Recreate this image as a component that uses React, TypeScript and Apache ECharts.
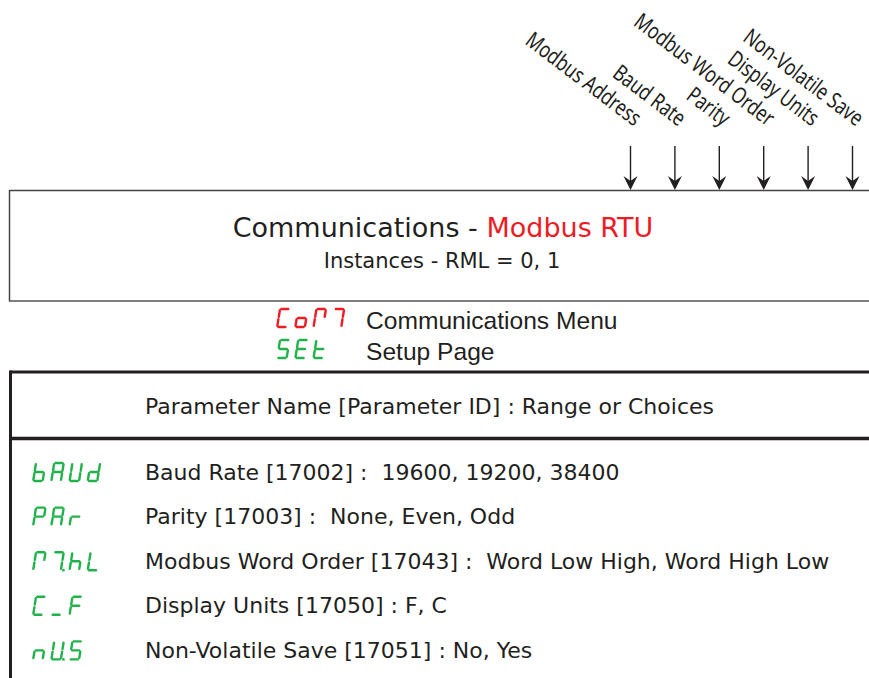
import React, { useEffect, useRef } from "react";
import * as echarts from "echarts";

// ---- data ----
const arrowLabels = ["Modbus Address", "Baud Rate", "Parity", "Modbus Word Order", "Display Units", "Non-Volatile Save"];
const titleMain = "Communications - ";
const titleAccent = "Modbus RTU";
const subtitle = "Instances - RML = 0, 1";
const menuCode = ["C", "o", "M1", "M2"];
const menuName = "Communications Menu";
const pageCode = ["S", "E", "t"];
const pageName = "Setup Page";
const tableHeader = "Parameter Name [Parameter ID] : Range or Choices";
const paramCodes = [
  ["b", "A", "U", "d"],
  ["P", "A", "r"],
  ["M1", "M2.", "h", "L"],
  ["C", "_", "F"],
  ["n", "U.", "S"],
];
const paramNames = ["Baud Rate", "Parity", "Modbus Word Order", "Display Units", "Non-Volatile Save"];
const paramIds = ["17002", "17003", "17043", "17050", "17051"];
const paramChoices = [
  " 19600, 19200, 38400",
  " None, Even, Odd",
  " Word Low High, Word High Low",
  "F, C",
  "No, Yes",
];

const SEGMENTS: Record<string, string> = {
  b: "cdefg",
  A: "abcefg",
  U: "bcdef",
  d: "bcdeg",
  P: "abefg",
  r: "eg",
  h: "cefg",
  L: "def",
  C: "adef",
  _: "d",
  F: "aefg",
  n: "ceg",
  S: "acdfg",
  E: "adefg",
  t: "defg",
  o: "cdeg",
  M1: "abef",
  M2: "abc",
};

const RED = "#ed1c24";
const GREEN = "#22b24c";
const INK = "#231f20";
const FONT = "DejaVu Sans";

function glyph(x0: number, y0: number, token: string, color: string): any[] {
  const dp = token.endsWith(".") && token.length > 1;
  const key = dp ? token.slice(0, -1) : token;
  const segs = SEGMENTS[key] || "";
  const w = 11.5, h = 20, k = 0.16, g = 1.3;
  const L = 1, R = w - 1, T = 1, M = h / 2, B = h - 1;
  const P = (x: number, y: number) => [x0 + x + (h - y) * k, y0 + y];
  const def: Record<string, number[][]> = {
    a: [[L + g, T], [R - g, T]],
    b: [[R, T + g], [R, M - g]],
    c: [[R, M + g], [R, B - g]],
    d: [[L + g, B], [R - g, B]],
    e: [[L, M + g], [L, B - g]],
    f: [[L, T + g], [L, M - g]],
    g: [[L + g, M], [R - g, M]],
  };
  const out: any[] = [];
  for (const s of segs) {
    const [p1, p2] = def[s];
    const a = P(p1[0], p1[1]);
    const b = P(p2[0], p2[1]);
    out.push({
      type: "line",
      shape: { x1: a[0], y1: a[1], x2: b[0], y2: b[1] },
      style: { stroke: color, lineWidth: 2.4, lineCap: "round" },
      silent: true,
    });
  }
  if (dp) {
    const c = P(R + 2.6, B);
    out.push({ type: "circle", shape: { cx: c[0], cy: c[1], r: 1.4 }, style: { fill: color }, silent: true });
  }
  return out;
}

function code(x0: number, y0: number, tokens: string[], color: string, pitch = 18.2): any[] {
  const out: any[] = [];
  tokens.forEach((t, i) => out.push(...glyph(x0 + i * pitch, y0, t, color)));
  return out;
}

function line(x1: number, y1: number, x2: number, y2: number, color: string, lw: number) {
  return { type: "line", shape: { x1, y1, x2, y2 }, style: { stroke: color, lineWidth: lw }, silent: true };
}

function text(x: number, y: number, t: string, opts: any = {}) {
  const { rotation, scaleX, ...style } = opts;
  return {
    type: "text",
    x,
    y,
    rotation: rotation || 0,
    scaleX: scaleX || 1,
    style: {
      text: t,
      x: 0,
      y: 0,
      fill: INK,
      fontSize: 20,
      fontFamily: FONT,
      align: "left",
      verticalAlign: "middle",
      ...style,
    },
    silent: true,
  };
}

export default function App() {
  const ref = useRef<HTMLDivElement>(null);
  useEffect(() => {
    if (!ref.current) return;
    const chart = echarts.init(ref.current, null, { renderer: "svg" });
    const els: any[] = [];

    // arrows + rotated labels
    const arrowX0 = 630.5, arrowStep = 44.4;
    arrowLabels.forEach((lab, i) => {
      const x = arrowX0 + i * arrowStep;
      els.push(line(x, 146, x, 181, INK, 1.4));
      els.push({
        type: "polygon",
        shape: { points: [[x - 7, 176], [x, 181], [x + 7, 176], [x, 190]] },
        style: { fill: INK },
        silent: true,
      });
      els.push(
        text(x + 2, 129, lab, {
          rotation: -0.65,
          scaleX: 0.78,
          fontSize: 22.5,
          fontFamily: "Noto Sans",
          align: "right",
          verticalAlign: "bottom",
          fill: INK,
        })
      );
    });

    // top box
    els.push(line(9.5, 190.5, 869, 190.5, "#444", 1.5));
    els.push(line(9.5, 190, 9.5, 301.5, "#444", 1.5));
    els.push(line(9.5, 301, 869, 301, "#555", 1.5));

    // title
    els.push({
      type: "text",
      x: 443,
      y: 227,
      style: {
        rich: {
          m: { fill: INK, fontSize: 27, fontFamily: FONT },
          r: { fill: RED, fontSize: 27, fontFamily: FONT },
        },
        text: `{m|${titleMain}}{r|${titleAccent}}`,
        align: "center",
        verticalAlign: "middle",
      },
      silent: true,
    });
    els.push(text(442, 261, subtitle, { fontSize: 21, align: "center" }));

    // menu / page
    els.push(...code(276, 308, menuCode, RED));
    els.push(text(366, 320, menuName, { fontSize: 24.6, fontFamily: "Liberation Sans" }));
    els.push(...code(276, 339, pageCode, GREEN));
    els.push(text(366, 351, pageName, { fontSize: 24.6, fontFamily: "Liberation Sans" }));

    // table frame
    els.push(line(10, 372, 869, 372, INK, 3));
    els.push(line(10.5, 370.5, 10.5, 678, INK, 3));
    els.push(line(10, 438.5, 869, 438.5, INK, 3.5));
    els.push(text(145, 406, tableHeader, { fontSize: 22 }));

    // rows
    const rowY0 = 472, rowStep = 44.6;
    paramNames.forEach((nm, i) => {
      const y = rowY0 + i * rowStep;
      els.push(...code(32, y - 10, paramCodes[i], GREEN));
      els.push(text(145, y, `${nm} [${paramIds[i]}] : ${paramChoices[i]}`, { fontSize: 22 }));
    });

    chart.setOption({
      animation: false,
      backgroundColor: "#ffffff",
      graphic: { elements: els },
    });
    return () => chart.dispose();
  }, []);
  return (
    <div
      ref={ref}
      style={{ position: "fixed", left: 0, top: 0, width: 869, height: 678, background: "#fff" }}
    />
  );
}
